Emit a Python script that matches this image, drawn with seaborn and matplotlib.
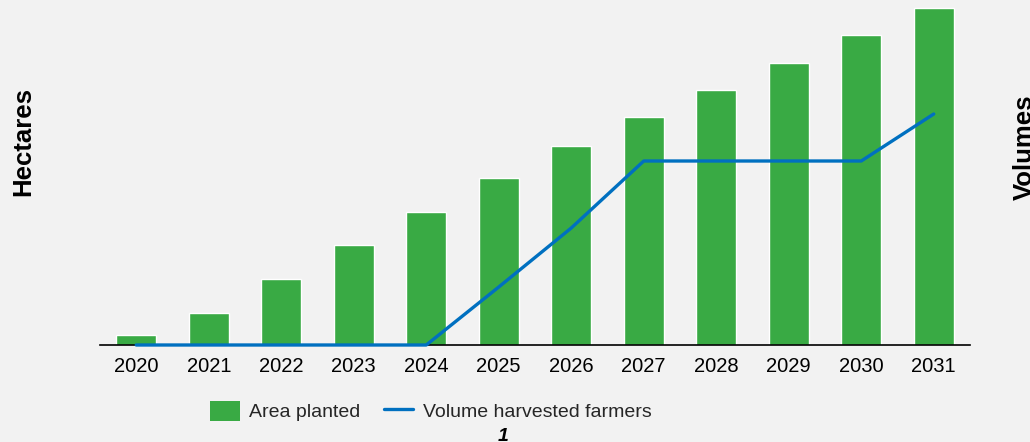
import matplotlib
matplotlib.use("Agg")
import matplotlib.pyplot as plt
import seaborn as sns
import numpy as np
import pandas as pd
from matplotlib.patches import Patch
from matplotlib.lines import Line2D

years = ["2020", "2021", "2022", "2023", "2024", "2025", "2026", "2027", "2028", "2029", "2030", "2031"]
area_planted = [10, 32, 66, 100, 133, 167, 199, 228, 255, 282, 310, 337]
volume_harvested = [0, 0, 0, 0, 0, 58, 117, 184, 184, 184, 184, 231]

bg = "#f2f2f2"
green = "#39aa44"
blue = "#0070c0"

sns.set_theme(style="white")
plt.rcParams["font.family"] = ["Liberation Sans", "DejaVu Sans"]

fig = plt.figure(figsize=(10.3, 4.42), dpi=100, facecolor=bg)
ax = fig.add_axes([100/1030, 1-345/442, 870/1030, 345/442])
ax.set_facecolor(bg)

df = pd.DataFrame({"year": years, "area": area_planted, "volume": volume_harvested})
sns.barplot(data=df, x="year", y="area", color=green, saturation=1, width=0.55, ax=ax, zorder=2)
ax.set_xlim(-0.5, len(years) - 0.5)
ax.set_ylim(0, 345)
ax.set_xlabel("")
ax.set_ylabel("")
ax.set_yticks([])
for s in ["top", "right", "left"]:
    ax.spines[s].set_visible(False)
ax.spines["bottom"].set_color("black")
ax.spines["bottom"].set_linewidth(1.2)
ax.tick_params(axis="x", length=0, pad=9, labelsize=14.5, colors="black")

ax2 = ax.twinx()
pos = np.arange(len(years))
sns.lineplot(x=pos, y=volume_harvested, ax=ax2, color=blue, linewidth=2.4, clip_on=False, zorder=3)
ax2.set_ylim(0, 345)
ax2.set_yticks([])
ax2.set_ylabel("")
for s in ["top", "right", "left", "bottom"]:
    ax2.spines[s].set_visible(False)
ax.set_xlim(-0.5, len(years) - 0.5)

fig.text(23/1030, 1-142/442, "Hectares", rotation=90, ha="center", va="center",
         fontsize=18.5, fontweight="bold", color="black")
fig.text(1025/1030, 1-147/442, "Volumes", rotation=90, ha="center", va="center",
         fontsize=18.5, fontweight="bold", color="black")

handles = [Patch(facecolor=green, edgecolor="none", label="Area planted"),
           Line2D([0], [0], color=blue, linewidth=2.4, label="Volume harvested farmers")]
fig.legend(handles=handles, loc="center", bbox_to_anchor=(431/1030, 1-411/442), ncol=2,
           frameon=False, fontsize=14, handlelength=1.5, handleheight=1.2,
           handletextpad=0.5, columnspacing=1.2)

fig.text(503/1030, 1-428/442, "1", ha="center", va="top", fontsize=14,
         fontweight="bold", fontstyle="italic", color="black")

fig.savefig("out.png", dpi=100, facecolor=bg)
